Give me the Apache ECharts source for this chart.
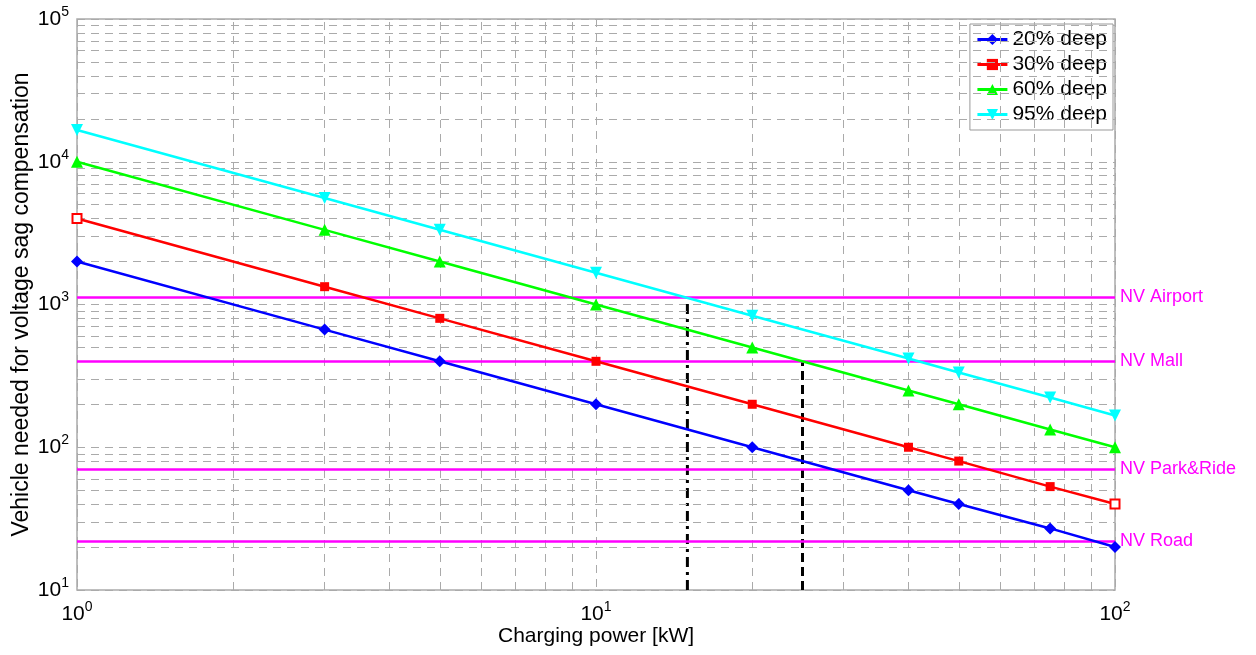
<!DOCTYPE html>
<html><head><meta charset="utf-8">
<script src="https://cdn.jsdelivr.net/npm/echarts@6/dist/echarts.min.js"></script>
<style>html,body{margin:0;padding:0;background:#fff}#c{width:1256px;height:655px}</style>
</head><body><div id="c"></div>
<script>
const power = [1, 3, 5, 10, 20, 40, 50, 75, 100];
const deep20 = [2000, 667, 400, 200, 100, 50, 40, 27, 20];
const deep30 = [4000, 1333, 800, 400, 200, 100, 80, 53, 40];
const deep60 = [10000, 3333, 2000, 1000, 500, 250, 200, 133, 100];
const deep95 = [16700, 5570, 3340, 1670, 835, 418, 334, 223, 167];
const nvNames = ['NV Airport', 'NV Mall', 'NV Park&Ride', 'NV Road'];
const nvValues = [1120, 400, 70, 22];
const airportCut = [[15, 10], [15, 1120]];
const mallCut = [[25, 10], [25, 400]];
const xDecades = [1, 10];
const yDecades = [10, 100, 1000, 10000];
const minorMult = [2, 3, 4, 5, 6, 7, 8, 9];

const FONT = 'Liberation Sans, Arial, sans-serif';
const supLabel = v => {
  const e = Math.round(Math.log10(v));
  return '{b|10}{s|' + e + '}';
};
const rich = {
  b: {fontSize: 21, color: '#000', fontFamily: FONT},
  s: {fontSize: 14, color: '#000', fontFamily: FONT, padding: [0, 0, 14, 0]}
};

const minorX = [], minorY = [];
xDecades.forEach(d => minorMult.forEach(m => minorX.push({xAxis: d * m})));
yDecades.forEach(d => minorMult.forEach(m => minorY.push({yAxis: d * m})));

function mkSeries(name, data, color, symbol, rotate, hollowIdx) {
  return {
    name, type: 'line', symbol, symbolSize: symbol === 'rect' ? 9 : 12, symbolRotate: rotate,
    lineStyle: {color, width: 2.5}, itemStyle: {color},
    data: power.map((x, i) => {
      const item = {value: [x, data[i]]};
      if (hollowIdx && hollowIdx.includes(i)) item.itemStyle = {color: '#fff', borderColor: color, borderWidth: 2};
      return item;
    }),
    z: 5, animation: false
  };
}

const chart = echarts.init(document.getElementById('c'), null, {renderer: 'canvas'});
chart.setOption({
  animation: false,
  backgroundColor: '#fff',
  grid: {left: 77, right: 141, top: 19, bottom: 65, show: true, borderColor: '#aaa', borderWidth: 1.5,
    outerBoundsMode: 'none', containLabel: false},
  legend: {
    data: ['20% deep', '30% deep', '60% deep', '95% deep'],
    orient: 'vertical', right: 143, top: 24,
    backgroundColor: '#fff', borderColor: '#999', borderWidth: 1,
    padding: [5, 6, 5, 6], itemGap: 4, itemWidth: 30, itemHeight: 14,
    lineStyle: {width: 3},
    textStyle: {fontSize: 21, color: '#000', fontFamily: FONT}
  },
  xAxis: {
    type: 'log', logBase: 10, min: 1, max: 100,
    name: 'Charging power [kW]', nameLocation: 'middle', nameGap: 36, nameMoveOverlap: false,
    nameTextStyle: {fontSize: 21, color: '#000', fontFamily: FONT},
    axisLine: {show: false}, axisTick: {show: false},
    axisLabel: {formatter: supLabel, rich, margin: 10},
    splitLine: {show: true, lineStyle: {color: '#aaa', type: [8, 6], width: 1}}
  },
  yAxis: {
    type: 'log', logBase: 10, min: 10, max: 100000,
    name: 'Vehicle needed for voltage sag compensation', nameLocation: 'middle', nameGap: 44, nameMoveOverlap: false,
    nameTextStyle: {fontSize: 23, color: '#000', fontFamily: FONT},
    axisLine: {show: false}, axisTick: {show: false},
    axisLabel: {formatter: supLabel, rich, margin: 8},
    splitLine: {show: true, lineStyle: {color: '#aaa', type: [8, 6], width: 1}}
  },
  series: [
    {
      name: 'grid-minor', type: 'line', data: [], silent: true, z: 1,
      markLine: {silent: true, symbol: 'none', animation: false, label: {show: false},
        lineStyle: {color: '#aaa', type: [8, 6], width: 1},
        data: minorX.concat(minorY)}
    },
    {
      name: 'nv', type: 'line', data: [], silent: true, z: 3,
      markLine: {silent: true, symbol: 'none', animation: false,
        lineStyle: {color: '#ff00ff', type: 'solid', width: 2.5},
        label: {show: true, position: 'end', formatter: '{b}', color: '#ff00ff', fontSize: 18, fontFamily: FONT, distance: 5},
        data: nvNames.map((n, i) => ({name: n, yAxis: nvValues[i]}))}
    },
    {name: 'airportCut', type: 'line', data: airportCut, symbol: 'none', silent: true, z: 4,
      lineStyle: {color: '#000', width: 3, type: [10, 5, 3, 5]}},
    {name: 'mallCut', type: 'line', data: mallCut, symbol: 'none', silent: true, z: 4,
      lineStyle: {color: '#000', width: 3, type: [9, 5]}},
    mkSeries('20% deep', deep20, '#0000ff', 'diamond', 0),
    mkSeries('30% deep', deep30, '#ff0000', 'rect', 0, [0, 8]),
    mkSeries('60% deep', deep60, '#00ff00', 'triangle', 0),
    mkSeries('95% deep', deep95, '#00ffff', 'triangle', 180)
  ]
});
</script></body></html>
